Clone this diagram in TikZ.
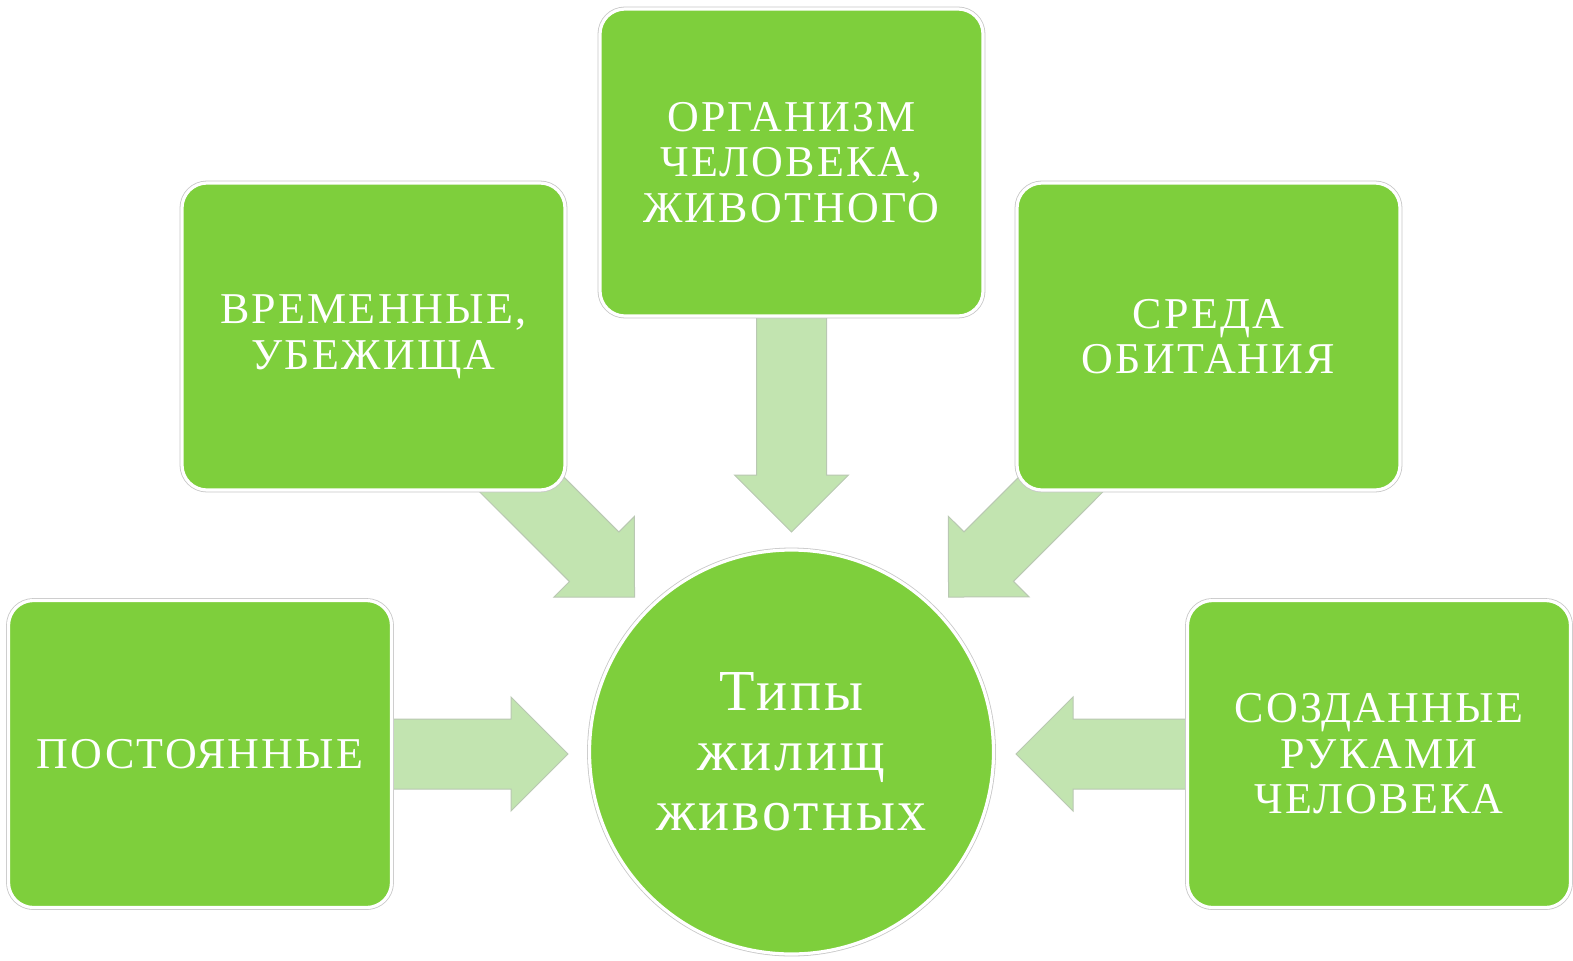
\documentclass[tikz,border=0pt]{standalone}
\usepackage{fontspec}
\setmainfont{Liberation Serif}[LetterSpace=5]
\usetikzlibrary{calc}
\pgfdeclarelayer{back}
\pgfdeclarelayer{bg}
\pgfsetlayers{back,bg,main}
\definecolor{boxgreen}{RGB}{126,207,60}
\definecolor{arrfill}{RGB}{194,228,176}
\definecolor{arrline}{RGB}{185,200,178}
\tikzset{
  greenbox/.style={rectangle, rounded corners=12.5pt, fill=boxgreen, draw=white, line width=1.6pt,
    preaction={draw=black!22, line width=2.4pt},
    text=white, align=center, inner sep=0pt,
    font=\fontsize{22pt}{22.8pt}\selectfont},
  rectbox/.style={greenbox, minimum width=191.5pt, minimum height=153.5pt},
  hubcircle/.style={circle, fill=boxgreen, draw=white, line width=1.6pt,
    preaction={draw=black!22, line width=2.4pt},
    minimum size=202pt, text=white, align=center, inner sep=0pt,
    font=\fontsize{29pt}{30pt}\selectfont},
  blockarrow/.style={fill=arrfill, draw=arrline, line width=0.5pt, line join=miter}
}
\newcommand{\barrow}[3]{% #1 name, #2 start, #3 tip
  \coordinate (#1h) at ($(#3)!28.5pt!(#2)$);
  \path[blockarrow]
    ($(#2)!17.5pt!90:(#3)$) -- ($(#1h)!17.5pt!90:(#3)$) -- ($(#1h)!28.5pt!90:(#3)$)
    -- (#3) -- ($(#1h)!28.5pt!-90:(#3)$) -- ($(#1h)!17.5pt!-90:(#3)$)
    -- ($(#2)!17.5pt!-90:(#3)$) -- cycle;
}
\begin{document}
\begin{tikzpicture}[x=0.5pt, y=-0.5pt]
\begin{pgfonlayer}{back}
\fill[white] (0,0) rectangle (1573,960);
\end{pgfonlayer}
\useasboundingbox (0,0) rectangle (1573,960);

\node[rectbox] (top) at (791.5,162.5) {ОРГАНИЗМ\\ЧЕЛОВЕКА,\\ЖИВОТНОГО};
\node[rectbox] (ul) at (373.5,336.5) {ВРЕМЕННЫЕ,\\УБЕЖИЩА};
\node[rectbox] (ur) at (1208.5,336.5) {СРЕДА\\ОБИТАНИЯ};
\node[rectbox] (bl) at (200,754) {ПОСТОЯННЫЕ};
\node[rectbox] (br) at (1379,754) {СОЗДАННЫЕ\\РУКАМИ\\ЧЕЛОВЕКА};
\node[hubcircle] (c) at (791.5,752) {Типы\\жилищ\\животных};

\coordinate (tTip) at (791.5,532);
\coordinate (lTip) at (568,754);
\coordinate (rTip) at (1016,754);
\coordinate (ulTip) at (634.5,597);
\coordinate (urTip) at (948.5,597);

\begin{pgfonlayer}{bg}
  \barrow{ta}{top.center}{tTip}
  \barrow{la}{bl.center}{lTip}
  \barrow{ra}{br.center}{rTip}
  \barrow{ula}{ul.center}{ulTip}
  \barrow{ura}{ur.center}{urTip}
\end{pgfonlayer}
\end{tikzpicture}
\end{document}
